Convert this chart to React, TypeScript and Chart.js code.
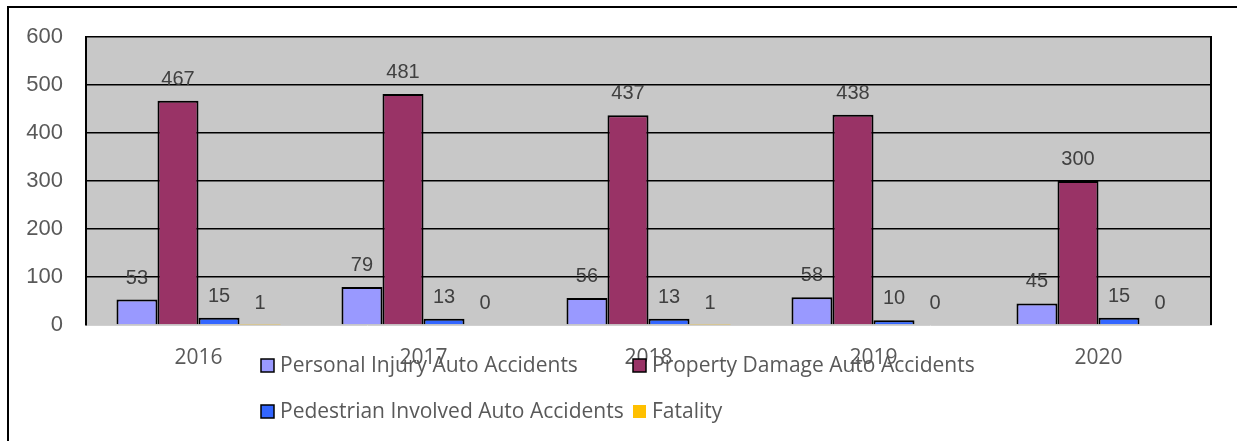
import { useEffect, useRef } from 'react';
import { Chart, registerables } from 'chart.js';

Chart.register(...registerables);

const years = ['2016', '2017', '2018', '2019', '2020'];
const personalInjury = [53, 79, 56, 58, 45];
const propertyDamage = [467, 481, 437, 438, 300];
const pedestrian = [15, 13, 13, 10, 15];
const fatality = [1, 0, 1, 0, 0];
const yMin = 0;
const yMax = 600;
const yStep = 100;
const seriesNames = [
  'Personal Injury Auto Accidents',
  'Property Damage Auto Accidents',
  'Pedestrian Involved Auto Accidents',
  'Fatality',
];
const seriesColors = ['#9999FF', '#993366', '#3366FF', '#FFC000'];
const seriesBorders = [2, 2, 2, 0];

const framePlugin = {
  id: 'frame',
  beforeDraw(chart: any) {
    const { ctx, chartArea } = chart;
    ctx.save();
    ctx.fillStyle = '#ffffff';
    ctx.fillRect(0, 0, chart.width, chart.height);
    // outer chart border (extends past viewport right / bottom)
    ctx.strokeStyle = '#000000';
    ctx.lineWidth = 2;
    ctx.beginPath();
    ctx.moveTo(8, 2000);
    ctx.lineTo(8, 7);
    ctx.lineTo(3000, 7);
    ctx.stroke();
    // plot background
    ctx.fillStyle = '#C8C8C8';
    ctx.fillRect(chartArea.left, chartArea.top, chartArea.right - chartArea.left, chartArea.bottom - chartArea.top);
    ctx.restore();
  },
  afterDraw(chart: any) {
    const { ctx, chartArea } = chart;
    ctx.save();
    ctx.strokeStyle = '#000000';
    ctx.lineWidth = 2;
    ctx.beginPath();
    ctx.moveTo(chartArea.right, chartArea.top - 1);
    ctx.lineTo(chartArea.right, chartArea.bottom);
    ctx.stroke();

    // legend (two columns, two rows)
    const colX = [261, 633];
    const rowY = [359, 405];
    const box = 13;
    ctx.font = '21px "Open Sans"';
    ctx.textAlign = 'left';
    ctx.textBaseline = 'alphabetic';
    chart.data.datasets.forEach((ds: any, i: number) => {
      const x = colX[i % 2];
      const y = rowY[Math.floor(i / 2)];
      ctx.fillStyle = ds.backgroundColor;
      ctx.fillRect(x, y, box, box);
      if (ds.borderWidth > 0) {
        ctx.strokeStyle = '#000000';
        ctx.lineWidth = 1.5;
        ctx.strokeRect(x, y, box, box);
      }
      ctx.fillStyle = '#595959';
      ctx.fillText(ds.label, x + 19, y + 13);
    });
    ctx.restore();
  },
};

const dataLabelPlugin = {
  id: 'dataLabels',
  afterDatasetsDraw(chart: any) {
    const { ctx } = chart;
    ctx.save();
    ctx.font = '20px "Liberation Sans", Arial, sans-serif';
    ctx.fillStyle = '#404040';
    ctx.textAlign = 'center';
    ctx.textBaseline = 'alphabetic';
    chart.data.datasets.forEach((ds: any, i: number) => {
      const meta = chart.getDatasetMeta(i);
      meta.data.forEach((el: any, j: number) => {
        ctx.fillText(String(ds.data[j]), el.x, el.y - 16);
      });
    });
    ctx.restore();
  },
};

export default function App() {
  const ref = useRef<HTMLCanvasElement | null>(null);
  useEffect(() => {
    if (!ref.current) return;
    const seriesData = [personalInjury, propertyDamage, pedestrian, fatality];
    const chart = new Chart(ref.current, {
      type: 'bar',
      data: {
        labels: years,
        datasets: seriesData.map((d, i) => ({
          label: seriesNames[i],
          data: d,
          backgroundColor: seriesColors[i],
          borderColor: '#000000',
          borderWidth: seriesBorders[i],
          categoryPercentage: 0.729,
          barPercentage: 1,
        })),
      },
      options: {
        animation: false,
        responsive: false,
        maintainAspectRatio: false,
        layout: { padding: { top: 37, right: 26, left: 0, bottom: 0 } },
        plugins: {
          legend: { display: false },
          tooltip: { enabled: false },
        },
        scales: {
          x: {
            grid: { display: false, drawTicks: false },
            border: { display: true, color: '#D0D0D0', width: 1 },
            ticks: {
              color: '#595959',
              font: { family: '"Open Sans"', size: 21 },
              padding: 20,
              maxRotation: 0,
            },
            afterFit(scale: any) {
              scale.height = 116;
            },
          },
          y: {
            min: yMin,
            max: yMax,
            ticks: {
              stepSize: yStep,
              color: '#595959',
              font: { family: '"Liberation Sans", Arial, sans-serif', size: 22 },
              padding: 23,
            },
            grid: {
              drawTicks: false,
              color: (c: any) => (c.tick && c.tick.value === 0 ? 'rgba(0,0,0,0)' : '#000000'),
              lineWidth: 1.5,
            },
            border: { display: true, color: '#000000', width: 2 },
            afterFit(scale: any) {
              scale.width = 86;
            },
          },
        },
      },
      plugins: [framePlugin, dataLabelPlugin],
    });
    return () => chart.destroy();
  }, []);
  return (
    <div style={{ position: 'fixed', left: 0, top: 0, width: 1237, height: 441 }}>
      <canvas ref={ref} width={1237} height={441} style={{ width: 1237, height: 441, display: 'block' }} />
    </div>
  );
}
